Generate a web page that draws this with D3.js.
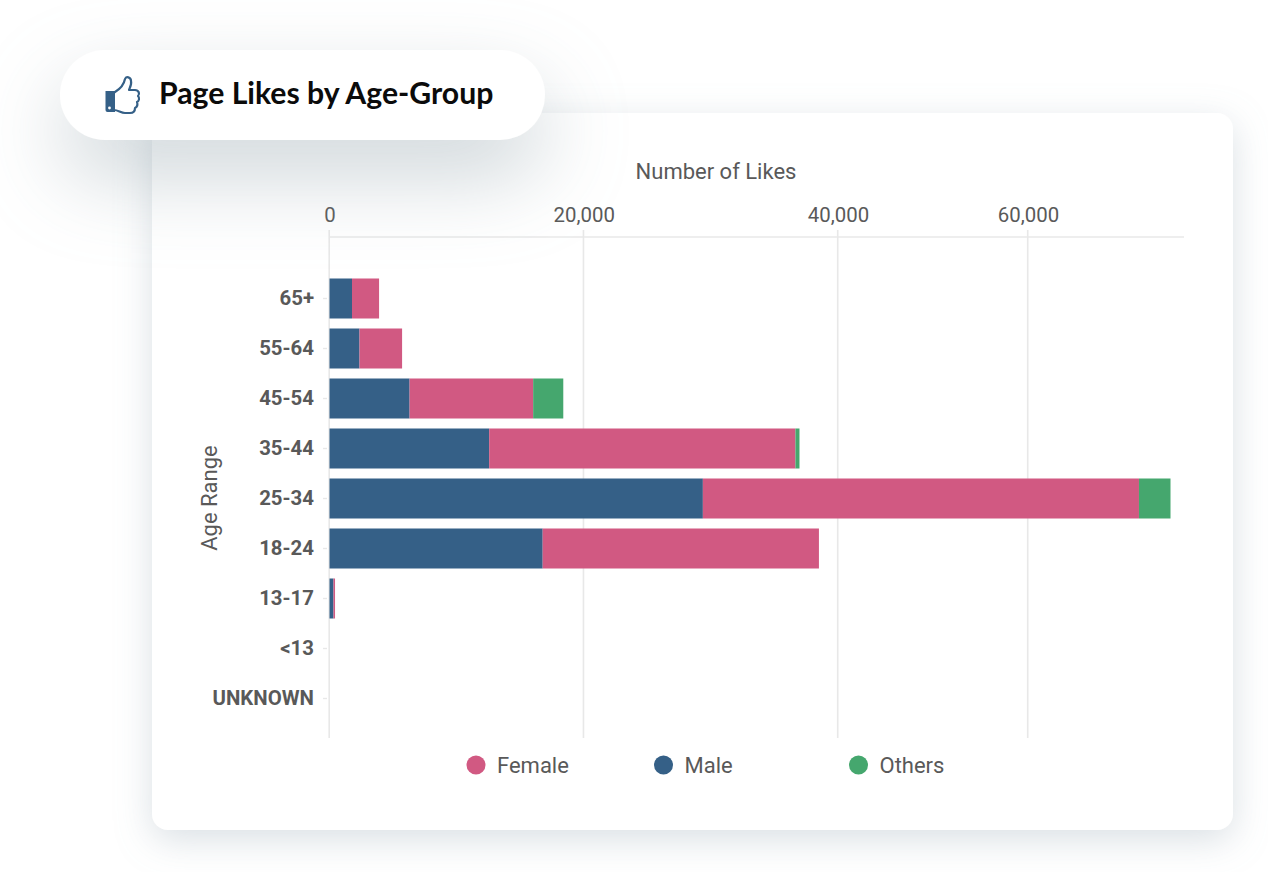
<!DOCTYPE html>
<html><head><meta charset="utf-8">
<script src="https://cdn.jsdelivr.net/npm/d3@7"></script>
<style>
html,body{margin:0;padding:0;background:#fff;width:1268px;height:872px;overflow:hidden}
svg{display:block}
text{font-family:Roboto,sans-serif}
</style></head><body>
<svg id="c" width="1268" height="872"></svg>
<script>
const categories = ["65+","55-64","45-54","35-44","25-34","18-24","13-17","<13","UNKNOWN"];
const male   = [1770,2360,6300,12560,29370,16770,315,0,0];
const female = [2130,3350,9720,24090,42310,21730,120,0,0];
const others = [0,0,2370,320,3320,0,0,0,0];
const seriesNames = ["Male","Female","Others"];
const seriesValues = [male,female,others];
const seriesColors = ["#356087","#d15982","#45a76e"];
const legendOrder = ["Female","Male","Others"];
const xTicks = [0,20000,40000,60000];
const xBreaks = [0,40000,60000,76316];
const xTitle = "Number of Likes", yTitle = "Age Range", chartTitle = "Page Likes by Age-Group";

const svg = d3.select("#c");
const defs = svg.append("defs");
const blur = (id,sd,dy,color,op)=>{
  const f = defs.append("filter").attr("id",id).attr("filterUnits","userSpaceOnUse")
    .attr("x",-200).attr("y",-200).attr("width",1700).attr("height",1300);
  f.append("feDropShadow").attr("dx",0).attr("dy",dy).attr("stdDeviation",sd)
    .attr("flood-color",color).attr("flood-opacity",op);
};
blur("cardS",18,10,"#93a3b0",0.34);
blur("pillS",42,36,"#94a4ad",0.46);

svg.append("rect").attr("x",152).attr("y",113).attr("width",1081).attr("height",717).attr("rx",16)
  .attr("fill","#fff").attr("filter","url(#cardS)");

const x = d3.scaleLinear().domain(xBreaks).range([329.5,838,1028,1183]);
const y = d3.scaleBand().domain(categories).range([273.5,723.5]).paddingInner(0.2).paddingOuter(0.1);
const gridTop = 230, gridBottom = 738, axisY = 237;

const grid = svg.append("g");
grid.selectAll("line.g").data(xTicks).join("line").attr("class","g")
  .attr("x1",d=>x(d)-0.3).attr("x2",d=>x(d)-0.3).attr("y1",gridTop).attr("y2",gridBottom)
  .attr("stroke","#e8e8e8").attr("stroke-width",1.6);
grid.append("line").attr("x1",x(0)).attr("x2",1184).attr("y1",axisY).attr("y2",axisY)
  .attr("stroke","#e8e8e8").attr("stroke-width",1.6);

const xAxis = d3.axisTop(x).tickValues(xTicks).tickFormat(d3.format(",")).tickSize(0).tickPadding(0);
const gx = svg.append("g").attr("transform","translate(0,222)").call(xAxis);
gx.select(".domain").remove();
gx.selectAll("text").attr("font-size",20.4).attr("fill","#595959").attr("font-family","Roboto");

const yAxis = d3.axisLeft(y).tickSize(4).tickPadding(9);
const gy = svg.append("g").attr("transform","translate(327,0)").call(yAxis);
gy.select(".domain").remove();
gy.selectAll("line").attr("stroke","#e8e8e8").attr("stroke-width",1.4);
gy.selectAll("text").attr("font-size",20.4).attr("font-weight",700).attr("fill","#595959").attr("font-family","Roboto");

const rows = categories.map((c,i)=>{ const r={cat:c}; seriesNames.forEach((s,k)=>r[s]=seriesValues[k][i]); return r; });
const stacked = d3.stack().keys(seriesNames)(rows);
svg.append("g").selectAll("g").data(stacked).join("g")
  .attr("fill",(d,i)=>seriesColors[i])
  .selectAll("rect").data(d=>d).join("rect")
  .attr("x",d=>x(d[0])).attr("y",d=>y(d.data.cat))
  .attr("width",d=>Math.max(0,x(d[1])-x(d[0])))
  .attr("height",y.bandwidth());

svg.append("text").attr("x",716).attr("y",179).attr("text-anchor","middle")
  .attr("font-size",22).attr("fill","#595959").text(xTitle);
svg.append("text").attr("transform","translate(217,498) rotate(-90)").attr("text-anchor","middle")
  .attr("font-size",22).attr("fill","#595959").text(yTitle);

const legendPos = {Female:476,Male:663.5,Others:858.5};
const leg = svg.append("g").selectAll("g").data(legendOrder).join("g")
  .attr("transform",d=>`translate(${legendPos[d]},765)`);
leg.append("circle").attr("r",9.5).attr("fill",d=>seriesColors[seriesNames.indexOf(d)]);
leg.append("text").attr("x",21).attr("y",7.5).attr("font-size",22).attr("fill","#595959").text(d=>d);

svg.append("rect").attr("x",60).attr("y",50).attr("width",485).attr("height",90).attr("rx",45)
  .attr("fill","#fff").attr("filter","url(#pillS)");
svg.append("text").attr("x",159).attr("y",104).attr("font-size",30.2).attr("font-weight",700)
  .attr("fill","#0b0b0b").style("font-family","Lato").text(chartTitle);

const icon = svg.append("g").attr("transform","translate(105,76)");
icon.append("path").attr("d","M0.5 15 H10 V36 H2.5 Q0.5 36 0.5 34 Z").attr("fill","#356087");
icon.append("path")
  .attr("d","M10 16 C15 13 19 8 20 3 C21 0 26 1 26 5 C27 9 24 13 24 14 H30 C34 14 35 18 33 20 C35 22 34 25 32 26 C33 29 32 31 30 32 C30 35 28 37 25 37 H20 C16 37 13 34 9 34")
  .attr("fill","none").attr("stroke","#356087").attr("stroke-width",2.2).attr("stroke-linejoin","round").attr("stroke-linecap","round");
icon.append("circle").attr("cx",4.5).attr("cy",32).attr("r",1.4).attr("fill","#fff");
</script>
</body></html>
